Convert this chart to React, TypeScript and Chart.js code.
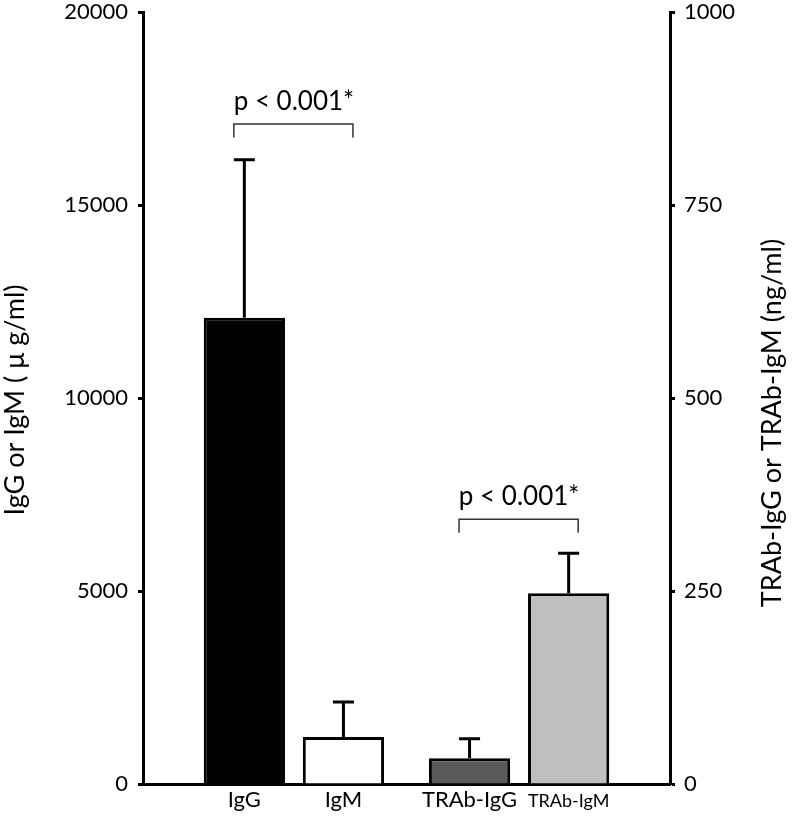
import React, { useEffect, useRef } from 'react';
import { Chart, registerables } from 'chart.js';

Chart.register(...registerables);

// ---- data ----
const categories = ['IgG', 'IgM', 'TRAb-IgG', 'TRAb-IgM'];
const groupOf = [0, 0, 1, 1]; // 0 = total Ig group, 1 = TRAb group
const axisOf = ['y', 'y', 'y1', 'y1'];
const means = [12080, 1220, 33.5, 247];
const sds = [4090, 905, 25, 52];
const leftTicks = [0, 5000, 10000, 15000, 20000];
const rightTicks = [0, 250, 500, 750, 1000];
const compareA = [0, 2];
const compareB = [1, 3];
const compareLevel = [17100, 343];
const compareText = ['p < 0.001*', 'p < 0.001*'];
const leftTitle = 'IgG or IgM ( μ g/ml)';
const rightTitle = 'TRAb-IgG or TRAb-IgM (ng/ml)';

// ---- styles ----
const fills = ['#000000', '#ffffff', '#595959', '#bfbfbf'];
const labelSizes = [22, 22, 22, 18];
const FONT = 'Lato';

const overlay = {
  id: 'overlay',
  afterDatasetsDraw(chart: any) {
    const { ctx, chartArea } = chart;
    ctx.save();
    // error bars
    ctx.strokeStyle = '#000';
    ctx.lineWidth = 3;
    ctx.lineCap = 'butt';
    const centers: number[] = [];
    categories.forEach((_, i) => {
      const meta = chart.getDatasetMeta(i);
      const el = meta.data[groupOf[i]];
      centers[i] = el.x;
      const scale = chart.scales[axisOf[i]];
      const yTop = el.y;
      const yErr = scale.getPixelForValue(means[i] + sds[i]);
      ctx.beginPath();
      ctx.moveTo(el.x, yTop);
      ctx.lineTo(el.x, yErr);
      ctx.moveTo(el.x - 10.5, yErr);
      ctx.lineTo(el.x + 10.5, yErr);
      ctx.stroke();
    });
    // significance brackets
    compareA.forEach((a, k) => {
      const b = compareB[k];
      const scale = chart.scales[axisOf[a]];
      const y = scale.getPixelForValue(compareLevel[k]);
      const x1 = centers[a] - 10.5;
      const x2 = centers[b] + 9.5;
      ctx.strokeStyle = '#333';
      ctx.lineWidth = 1.5;
      ctx.beginPath();
      ctx.moveTo(x1, y + 13.5);
      ctx.lineTo(x1, y);
      ctx.lineTo(x2, y);
      ctx.lineTo(x2, y + 13.5);
      ctx.stroke();
      ctx.fillStyle = '#000';
      ctx.font = `26px ${FONT}`;
      ctx.textAlign = 'center';
      ctx.textBaseline = 'alphabetic';
      ctx.fillText(compareText[k], (centers[a] + centers[b]) / 2, y - 14);
    });
    // category labels
    categories.forEach((c, i) => {
      ctx.fillStyle = '#000';
      ctx.font = `${labelSizes[i]}px ${FONT}`;
      ctx.textAlign = 'center';
      ctx.textBaseline = 'alphabetic';
      ctx.fillText(c, centers[i], chartArea.bottom + 23);
    });
    // axis titles (both read bottom-to-top)
    const midY = (chartArea.top + chartArea.bottom) / 2;
    ctx.font = `27px ${FONT}`;
    ctx.textAlign = 'center';
    ctx.textBaseline = 'alphabetic';
    ctx.save();
    ctx.translate(chartArea.left - 119, midY + 2);
    ctx.rotate(-Math.PI / 2);
    ctx.fillText(leftTitle, 0, 0);
    ctx.restore();
    ctx.save();
    ctx.translate(chartArea.right + 111, midY + 25);
    ctx.rotate(-Math.PI / 2);
    ctx.fillText(rightTitle, 0, 0);
    ctx.restore();
    ctx.restore();
  },
};

export default function App() {
  const ref = useRef<HTMLCanvasElement>(null);
  useEffect(() => {
    if (!ref.current) return;
    const datasets = categories.map((c, i) => ({
      label: c,
      data: [0, 1].map((g) => ({ x: g, y: g === groupOf[i] ? means[i] : null })),
      yAxisID: axisOf[i],
      backgroundColor: fills[i],
      borderColor: '#000',
      borderWidth: 3,
      barPercentage: 0.82,
      categoryPercentage: 0.88,
      skipNull: true,
    }));
    const yCommon = {
      ticks: {
        font: { family: FONT, size: 22 },
        color: '#000',
        callback: (v: any) => String(v),
      },
      grid: { drawOnChartArea: false, drawTicks: true, tickLength: 5, tickWidth: 3, tickColor: '#000' },
      border: { display: true, color: '#000', width: 3 },
    };
    const chart = new Chart(ref.current, {
      type: 'bar',
      data: { datasets } as any,
      options: {
        responsive: false,
        animation: false,
        layout: { padding: { top: 12, left: 0, right: 0, bottom: 0 } },
        plugins: { legend: { display: false }, tooltip: { enabled: false } },
        scales: {
          x: {
            type: 'linear',
            min: -0.67,
            max: 1.67,
            offset: false,
            afterBuildTicks: (axis: any) => {
              axis.ticks = [{ value: 0 }, { value: 1 }];
            },
            ticks: { display: false },
            grid: { display: false, drawTicks: false },
            border: { display: true, color: '#000', width: 3 },
            afterFit: (s: any) => {
              s.height = 37;
              s.paddingLeft = 0;
              s.paddingRight = 0;
            },
          },
          y: {
            ...yCommon,
            position: 'left',
            min: 0,
            max: 20000,
            ticks: { ...yCommon.ticks, padding: 10 },
            afterBuildTicks: (axis: any) => {
              axis.ticks = leftTicks.map((v) => ({ value: v }));
            },
            afterFit: (s: any) => {
              s.width = 143;
              s.paddingTop = 0;
              s.paddingBottom = 0;
            },
          },
          y1: {
            ...yCommon,
            position: 'right',
            min: 0,
            max: 1000,
            ticks: { ...yCommon.ticks, padding: 9 },
            afterBuildTicks: (axis: any) => {
              axis.ticks = rightTicks.map((v) => ({ value: v }));
            },
            afterFit: (s: any) => {
              s.width = 122;
              s.paddingTop = 0;
              s.paddingBottom = 0;
            },
          },
        } as any,
      },
      plugins: [overlay],
    });
    return () => chart.destroy();
  }, []);
  return (
    <div style={{ position: 'absolute', left: 0, top: 0, width: 792, height: 821, background: '#fff' }}>
      <canvas ref={ref} width={792} height={821} style={{ display: 'block' }} />
    </div>
  );
}
